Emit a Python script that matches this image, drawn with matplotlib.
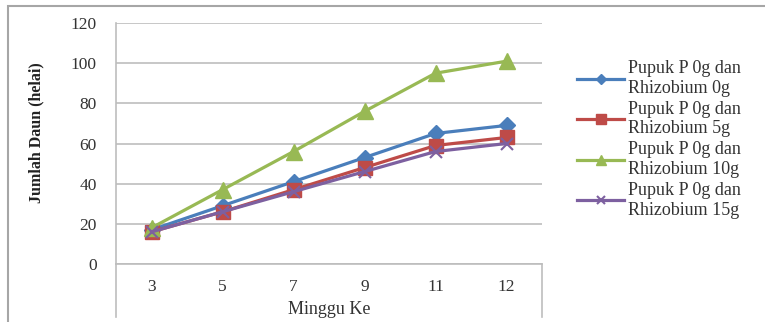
import matplotlib
matplotlib.use("Agg")
import matplotlib.pyplot as plt
from matplotlib.patches import Rectangle
import numpy as np

# weekly leaf counts per treatment
minggu = ["3", "5", "7", "9", "11", "12"]
rhizo_0 = [17, 29, 41, 53, 65, 69]
rhizo_5 = [16, 26, 37, 48, 59, 63]
rhizo_10 = [18, 37, 56, 76, 95, 101]
rhizo_15 = [16, 26, 36, 46, 56, 60]
labels = ["Pupuk P 0g dan\nRhizobium 0g", "Pupuk P 0g dan\nRhizobium 5g",
          "Pupuk P 0g dan\nRhizobium 10g", "Pupuk P 0g dan\nRhizobium 15g"]

plt.rcParams["font.family"] = ["Liberation Serif", "DejaVu Serif"]

W, H = 765, 322
fig = plt.figure(figsize=(W / 100, H / 100), dpi=100)
ax = fig.add_axes([116 / W, 1 - 264 / H, (542 - 116) / W, (264 - 23) / H])

x = np.arange(len(minggu))
ax.plot(x, rhizo_0, color="#4a7ebb", lw=2.3, marker="D", ms=8, label=labels[0])
ax.plot(x, rhizo_5, color="#be4b48", lw=2.3, marker="s", ms=10, label=labels[1])
ax.plot(x, rhizo_10, color="#98b954", lw=2.3, marker="^", ms=11, label=labels[2])
ax.plot(x, rhizo_15, color="#7d60a0", lw=2.3, marker="x", ms=9, mew=1.5, label=labels[3])

ax.set_xlim(-0.5, len(minggu) - 0.5)
ax.set_ylim(0, 120)
ax.set_yticks(range(0, 121, 20))
ax.set_xticks(x)
ax.set_xticklabels(minggu)
ax.tick_params(length=0, labelsize=12.5, colors="#333333")
ax.tick_params(axis="y", pad=14)
ax.tick_params(axis="x", pad=11)

ax.grid(axis="y", color="#bdbdbd", lw=1.2)
ax.set_axisbelow(True)
for s in ["top", "right"]:
    ax.spines[s].set_visible(False)
for s in ["left", "bottom"]:
    ax.spines[s].set_color("#bdbdbd")
    ax.spines[s].set_linewidth(1.2)

# frame lines below the category axis
ax.plot([0, 0], [0, -0.22], transform=ax.transAxes, clip_on=False, color="#bdbdbd", lw=1.2)
ax.plot([1, 1], [0, -0.22], transform=ax.transAxes, clip_on=False, color="#bdbdbd", lw=1.2)

ax.set_xlabel("Minggu Ke", fontsize=13, color="#333333", labelpad=4)
ax.set_ylabel("Jumlah Daun (helai)", fontsize=11.5, fontweight="bold", color="#222222")
ax.yaxis.set_label_coords(-0.167, 0.544)

fig.legend(loc="upper left", bbox_to_anchor=(561 / W, 1 - 44 / H), frameon=False,
           fontsize=13, handlelength=2.6, handletextpad=0.2, labelspacing=0.22,
           markerscale=0.7, labelcolor="#333333")

# outer chart border
fig.patches.append(Rectangle((8 / W, -0.1), 1.2, 1 - 6 / H + 0.1, transform=fig.transFigure,
                             fill=False, edgecolor="#a6a6a6", lw=1.5))

fig.savefig("out.png", dpi=100)
